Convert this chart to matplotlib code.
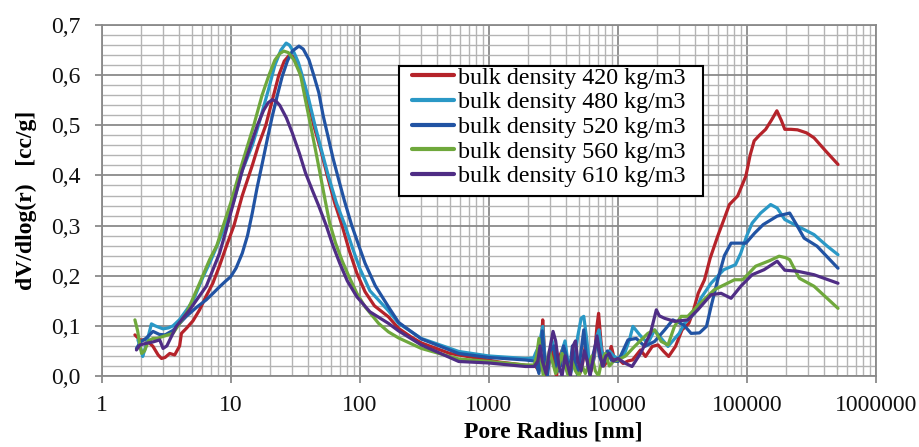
import matplotlib
matplotlib.use("Agg")
import matplotlib.pyplot as plt
from matplotlib.patches import Rectangle
from matplotlib.ticker import FixedLocator, FixedFormatter, LogLocator, MultipleLocator, NullFormatter

# ---------------- data ----------------
labels = ["bulk density 420 kg/m3", "bulk density 480 kg/m3", "bulk density 520 kg/m3",
          "bulk density 560 kg/m3", "bulk density 610 kg/m3"]

r_420 = [1.81, 1.98, 2.22, 2.50, 2.74, 2.91, 3.1, 3.37, 3.68, 4.02,
         4.15, 4.53, 5.1, 5.74, 6.47, 7.27, 8.2, 9.23, 10.6, 12.3,
         14.7, 16.4, 18.7, 21, 23.6, 26, 28.5, 30.5, 32.5, 35,
         38, 41, 44, 50, 56, 64, 73, 83, 95, 110,
         130, 167, 200, 250, 300, 500, 800, 1200, 2000, 2300,
         2450, 2550, 2620, 2700, 2780, 2900, 3050, 3200, 3350, 3550,
         3750, 3950, 4200, 4450, 4600, 4850, 5000, 5300, 5600, 5900,
         6200, 6600, 6900, 7100, 7400, 7800, 8300, 8900, 9400, 10000,
         11000, 12000, 13000, 15000, 16400, 18500, 20500, 22700, 24800, 28000,
         31500, 35500, 38000, 42000, 47000, 52000, 59500, 66000, 73300, 84900,
         98400, 106000, 114000, 125000, 140000, 155000, 171000, 185000, 197000, 220000,
         247000, 290000, 332000, 408000, 509000]
v_420 = [0.082, 0.072, 0.072, 0.059, 0.042, 0.035, 0.037, 0.045, 0.042, 0.06,
         0.085, 0.095, 0.11, 0.132, 0.16, 0.185, 0.22, 0.258, 0.3, 0.36,
         0.42, 0.46, 0.5, 0.55, 0.6, 0.628, 0.64, 0.637, 0.625, 0.6,
         0.57, 0.535, 0.5, 0.45, 0.4, 0.345, 0.3, 0.25, 0.205, 0.168,
         0.14, 0.118, 0.095, 0.078, 0.066, 0.045, 0.036, 0.028, 0.021, 0.02,
         0.01, 0.06, 0.112, 0.05, 0.0, 0.02, 0.06, 0.03, 0.0, 0.04,
         0.055, 0.02, 0.0, 0.03, 0.04, 0.01, 0.0, 0.02, 0.06, 0.02,
         0.01, 0.04, 0.1, 0.125, 0.07, 0.02, 0.03, 0.059, 0.035, 0.035,
         0.025, 0.03, 0.032, 0.052, 0.039, 0.059, 0.062, 0.049, 0.039, 0.059,
         0.092, 0.105, 0.125, 0.165, 0.192, 0.235, 0.279, 0.31, 0.342, 0.359,
         0.399, 0.44, 0.469, 0.48, 0.492, 0.51, 0.529, 0.51, 0.492, 0.492,
         0.491, 0.485, 0.475, 0.449, 0.422]

r_480 = [1.91, 2.04, 2.08, 2.2, 2.43, 2.6, 2.99, 3.3, 3.57, 4.0,
         4.5, 5.1, 6.04, 7.0, 8.0, 9.4, 10.6, 12.3, 14.7, 16.4,
         19.8, 22, 24.5, 26.9, 28.5, 31, 33.5, 35.8, 40, 45,
         50, 57, 66, 77, 88, 100, 120, 167, 200, 300,
         585, 1000, 1925, 2230,
         2300, 2450, 2620, 2700, 2800, 2950, 3100, 3300, 3500, 3700,
         3900, 4100, 4300, 4600, 4900, 5200, 5450, 5700, 6000, 6400,
         6900, 7150, 7500, 8000, 8600, 9300, 10000, 11300, 12400, 13100,
         14800, 17100, 19300, 21100, 24500, 29900, 32900, 39300, 44000, 52800,
         66300, 81700, 89800, 100000, 110000, 128000, 153000, 172000, 197000, 247000,
         332000, 420000, 509000]
v_480 = [0.072, 0.05, 0.039, 0.06, 0.104, 0.1, 0.094, 0.096, 0.1, 0.112,
         0.13, 0.15, 0.195, 0.23, 0.265, 0.31, 0.35, 0.41, 0.46, 0.5,
         0.575, 0.62, 0.65, 0.664, 0.66, 0.645, 0.625, 0.6, 0.555, 0.5,
         0.455, 0.4, 0.345, 0.3, 0.255, 0.215, 0.17, 0.13, 0.105, 0.075,
         0.049, 0.04, 0.035, 0.036,
         0.045, 0.06, 0.099, 0.05, 0.01, 0.04, 0.07, 0.04, 0.01, 0.05,
         0.07, 0.03, 0.005, 0.03, 0.08, 0.115, 0.119, 0.08, 0.03, 0.02,
         0.08, 0.092, 0.05, 0.03, 0.05, 0.04, 0.035, 0.045, 0.075, 0.099,
         0.082, 0.065, 0.092, 0.079, 0.059, 0.085, 0.105, 0.125, 0.155, 0.185,
         0.212, 0.222, 0.245, 0.28, 0.305, 0.325, 0.342, 0.335, 0.312, 0.299,
         0.282, 0.259, 0.242]

r_520 = [1.86, 2.0, 2.2, 2.5, 2.8, 3.1, 3.57, 4.53, 5.5, 6.47,
         7.5, 8.2, 9.2, 10, 11, 12.3, 13.5, 14.7, 16, 17.6,
         19.5, 21, 23, 25.1, 27.5, 30, 33.8, 36.5, 40.4, 44,
         48.2, 52, 57.6, 62, 68.8, 76, 86.8, 100, 110, 132,
         167, 200, 300, 585, 1000, 1925, 2250,
         2300, 2450, 2600, 2700, 2850, 3000, 3200, 3400, 3600, 3800,
         4000, 4200, 4450, 4650, 4900, 5200, 5450, 5700, 6000, 6400,
         6900, 7200, 7700, 8300, 9000, 10050, 12000, 13900, 16200, 19300,
         23100, 26700, 32400, 37000, 43000, 48700, 53000, 59500, 67000, 75500,
         98400, 115000, 134000, 172000, 215000, 245000, 278000, 350000, 509000]
v_520 = [0.055, 0.068, 0.075, 0.089, 0.083, 0.082, 0.091, 0.119, 0.138, 0.152,
         0.168, 0.178, 0.19, 0.198, 0.215, 0.245, 0.28, 0.325, 0.375, 0.425,
         0.48, 0.518, 0.56, 0.598, 0.628, 0.648, 0.658, 0.652, 0.631, 0.6,
         0.565, 0.52, 0.471, 0.435, 0.391, 0.35, 0.3, 0.255, 0.225, 0.18,
         0.138, 0.107, 0.074, 0.045, 0.037, 0.032, 0.03,
         0.03, 0.005, 0.09, 0.04, 0.0, 0.05, 0.06, 0.01, 0.02, 0.06,
         0.04, 0.005, 0.06, 0.03, 0.0, 0.05, 0.092, 0.04, 0.01, 0.04,
         0.075, 0.04, 0.02, 0.05, 0.03, 0.029, 0.072, 0.075, 0.059, 0.069,
         0.092, 0.112, 0.102, 0.085, 0.086, 0.099, 0.14, 0.192, 0.24, 0.265,
         0.265, 0.285, 0.302, 0.319, 0.325, 0.3, 0.275, 0.259, 0.215]

r_560 = [1.81, 1.9, 1.98, 2.04, 2.15, 2.3, 2.5, 2.7, 2.99, 3.57,
         4.53, 5.0, 5.74, 6.86, 7.8, 8.63, 10, 12.3, 15.1, 17.5,
         19.8, 22, 24, 25.8, 28, 31, 34.8, 38, 41.6, 45.5,
         49.6, 54, 58.5, 65, 73, 82, 95, 110, 140, 167,
         200, 300, 585, 1000, 1925, 2250,
         2350, 2450, 2550, 2650, 2800, 2950, 3100, 3300, 3500, 3700,
         3900, 4150, 4400, 4700, 5000, 5300, 5600, 5900, 6300, 6700,
         7100, 7500, 8000, 8600, 9300, 10050, 11500, 13500, 17100, 19300,
         21700, 24500, 27500, 31000, 34900, 41700, 55900, 80300, 92800, 117000,
         150000, 178000, 200000, 215000, 255000, 332000, 509000]
v_560 = [0.112, 0.09, 0.06, 0.045, 0.05, 0.07, 0.075, 0.075, 0.079, 0.085,
         0.125, 0.15, 0.185, 0.232, 0.26, 0.295, 0.345, 0.425, 0.5, 0.56,
         0.6, 0.63, 0.643, 0.648, 0.645, 0.63, 0.6, 0.55, 0.5, 0.45,
         0.4, 0.35, 0.305, 0.265, 0.23, 0.2, 0.165, 0.138, 0.105, 0.088,
         0.076, 0.055, 0.034, 0.029, 0.022, 0.022,
         0.04, 0.075, 0.03, 0.0, 0.02, 0.05, 0.03, 0.005, 0.02, 0.045,
         0.02, 0.0, 0.03, 0.01, 0.0, 0.02, 0.005, 0.02, 0.04, 0.01,
         0.0, 0.03, 0.045, 0.02, 0.03, 0.032, 0.04, 0.059, 0.085, 0.092,
         0.069, 0.062, 0.099, 0.119, 0.119, 0.14, 0.172, 0.192, 0.192, 0.219,
         0.23, 0.239, 0.236, 0.232, 0.195, 0.179, 0.135]

r_610 = [1.86, 1.98, 2.2, 2.5, 2.82, 2.99, 3.2, 3.79, 4.81, 6.47,
         8.2, 9.2, 10, 12.3, 14.7, 16.1, 18, 19.5, 21, 22.5,
         24, 27, 30, 34, 38, 43, 48, 55, 62, 70,
         80, 95, 120, 167, 200, 300, 585, 1000, 1925, 2250,
         2400, 2500, 2600, 2780, 2950, 3150, 3300, 3500, 3700, 3900,
         4100, 4300, 4500, 4700, 4900, 5200, 5500, 5800, 6100, 6500,
         6900, 7200, 7600, 8100, 8600, 9200, 10000, 11500, 12900, 15000,
         17900, 19900, 21000, 23100, 27500, 34900, 41700, 52800, 63200, 75500,
         89800, 110000, 136000, 172000, 197000, 247000, 332000, 509000]
v_610 = [0.052, 0.062, 0.065, 0.068, 0.072, 0.055, 0.06, 0.099, 0.132, 0.179,
         0.245, 0.29, 0.325, 0.41, 0.47, 0.5, 0.53, 0.545, 0.551, 0.548,
         0.54, 0.515, 0.485, 0.445, 0.405, 0.37, 0.34, 0.3, 0.26, 0.225,
         0.19, 0.158, 0.128, 0.105, 0.09, 0.062, 0.029, 0.026, 0.019, 0.019,
         0.03, 0.06, 0.03, 0.005, 0.05, 0.089, 0.07, 0.02, 0.0, 0.04,
         0.02, 0.0, 0.06, 0.07, 0.03, 0.01, 0.05, 0.03, 0.0, 0.04,
         0.08, 0.05, 0.02, 0.04, 0.045, 0.03, 0.035, 0.025, 0.019, 0.045,
         0.085, 0.132, 0.12, 0.115, 0.109, 0.112, 0.132, 0.162, 0.165, 0.155,
         0.179, 0.202, 0.212, 0.229, 0.211, 0.209, 0.202, 0.185]

colors = ["#B5232A", "#2A98C6", "#2153A3", "#6FA83C", "#4F2D85"]

xtick_values = [1, 10, 100, 1000, 10000, 100000, 1000000]
xtick_labels = ["1", "10", "100", "1000", "10000", "100000", "1000000"]
ytick_values = [0.0, 0.1, 0.2, 0.3, 0.4, 0.5, 0.6, 0.7]
ytick_labels = ["0,0", "0,1", "0,2", "0,3", "0,4", "0,5", "0,6", "0,7"]

x_label = "Pore Radius [nm]"
y_label = "dV/dlog(r)   [cc/g]"

# ---------------- figure ----------------
plt.rcParams['font.family'] = ['Liberation Serif', 'DejaVu Serif']

fig = plt.figure(figsize=(9.2, 4.47), dpi=100)
ax = fig.add_axes([0.1105, 0.1588, 0.8415, 0.7852])

series = [(r_420, v_420), (r_480, v_480), (r_520, v_520), (r_560, v_560), (r_610, v_610)]
for (r, v), c, lab in zip(series, colors, labels):
    ax.plot(r, v, color=c, lw=2.3, label=lab, solid_joinstyle='round', solid_capstyle='round', zorder=3)

ax.set_xscale('log')
ax.set_xlim(1, 1e6)
ax.set_ylim(0, 0.7)

ax.xaxis.set_major_locator(FixedLocator(xtick_values))
ax.xaxis.set_major_formatter(FixedFormatter(xtick_labels))
ax.xaxis.set_minor_locator(LogLocator(base=10, subs=range(2, 10), numticks=50))
ax.xaxis.set_minor_formatter(NullFormatter())
ax.yaxis.set_major_locator(FixedLocator(ytick_values))
ax.yaxis.set_major_formatter(FixedFormatter(ytick_labels))
ax.yaxis.set_minor_locator(MultipleLocator(0.02))

ax.grid(which='major', color='#8a8a8a', lw=1.3, zorder=0)
ax.grid(which='minor', color='#b4b4b4', lw=1.0, zorder=0)
ax.set_axisbelow(True)

for s in ax.spines.values():
    s.set_color('#8a8a8a')
    s.set_linewidth(1.3)

ax.tick_params(axis='both', which='major', direction='out', length=5, width=1.3,
               color='#8a8a8a', labelsize=17, labelcolor='#111111')
ax.tick_params(axis='x', which='major', pad=9)
ax.tick_params(axis='y', which='major', pad=10)
ax.tick_params(axis='both', which='minor', length=0)

ax.set_xlabel(x_label, fontsize=17, fontweight='bold')
ax.xaxis.set_label_coords(0.583, -0.13)
ax.set_ylabel(y_label, fontsize=17, fontweight='bold')
ax.yaxis.set_label_coords(-0.083, 0.5)

# legend box (white background with black frame)
box = Rectangle((0.384, 0.5128), 0.3926, 0.3702, transform=ax.transAxes,
                facecolor='white', edgecolor='black', lw=1.5, zorder=4)
ax.add_patch(box)

leg = ax.legend(loc='upper left', bbox_to_anchor=(0.401, 0.881), borderaxespad=0,
                fontsize=17.3, frameon=False, handlelength=1.75,
                handletextpad=0.18, labelspacing=0.12, borderpad=0.0)
leg.set_zorder(5)
for line in leg.get_lines():
    line.set_linewidth(3)

fig.savefig("out.png", dpi=100, facecolor='white')
